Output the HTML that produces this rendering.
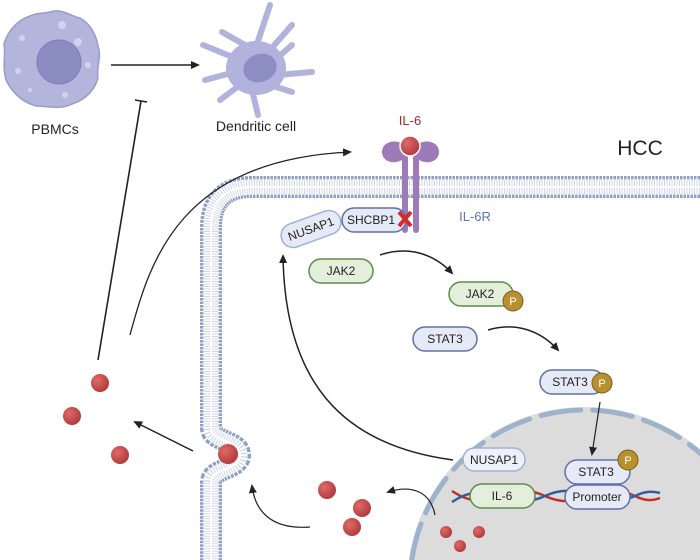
<!DOCTYPE html>
<html><head><meta charset="utf-8"><style>
html,body{margin:0;padding:0;background:#fff;width:700px;height:560px;overflow:hidden}
svg{display:block;overflow:hidden}
text{font-family:"Liberation Sans",sans-serif}
</style></head><body>
<svg width="700" height="560" viewBox="0 0 700 560" xmlns="http://www.w3.org/2000/svg">
<defs>
<marker id="ah" markerWidth="10" markerHeight="10" refX="7" refY="4" orient="auto" markerUnits="userSpaceOnUse"><path d="M0,0 L9,4 L0,8 Z" fill="#222"/></marker>
<radialGradient id="rb" cx="0.35" cy="0.35" r="0.7"><stop offset="0" stop-color="#e06a6a"/><stop offset="1" stop-color="#b03a3a"/></radialGradient>
<clipPath id="cp"><rect x="0" y="0" width="700" height="560"/></clipPath>
<path id="mp" d="M700,187 H252 Q211,187 211,228 V428 C211,442 240,440 240,455 C240,470 211,468 211,482 V560"/>
</defs>
<g clip-path="url(#cp)">
<circle cx="585" cy="585" r="178" fill="#dcdcdc"/>
<circle cx="585" cy="585" r="175" fill="none" stroke="#9fb2cc" stroke-width="5" stroke-dasharray="40 12" stroke-linecap="round"/>
<g fill="none">
<use href="#mp" stroke="#8e9fc2" stroke-width="22" stroke-dasharray="2.5 1"/>
<use href="#mp" stroke="#fff" stroke-width="17"/>
<use href="#mp" stroke="#8e9fc2" stroke-width="19" stroke-dasharray="2.5 1" opacity="0.9"/>
<use href="#mp" stroke="#fff" stroke-width="15"/>
<use href="#mp" stroke="#cfd7e7" stroke-width="14" stroke-dasharray="1 1.5"/>
<use href="#mp" stroke="#fff" stroke-width="2"/>
</g>
</g>
<path d="M50,12 C62,8 70,16 80,18 C90,24 96,34 98,46 C102,58 96,66 98,78 C94,92 84,100 72,104 C60,110 48,106 36,106 C22,102 12,92 6,80 C2,66 6,56 4,44 C8,30 18,20 30,16 C38,12 44,14 50,12Z" fill="#b4b5dd" stroke="#9a9acb" stroke-width="1.5"/>
<circle cx="59" cy="62" r="22" fill="#8a8cc2" stroke="#7c7eb6"/>
<g fill="#d0d2ee"><circle cx="62" cy="25" r="4"/><circle cx="78" cy="42" r="4"/><circle cx="22" cy="38" r="3"/><circle cx="18" cy="71" r="3"/><circle cx="88" cy="65" r="3"/><circle cx="65" cy="95" r="3"/><circle cx="30" cy="90" r="2"/></g>
<text x="55" y="134" font-size="14" text-anchor="middle" fill="#222">PBMCs</text>
<line x1="111" y1="65" x2="198" y2="65" stroke="#222" stroke-width="1.6" marker-end="url(#ah)"/>
<g stroke="#b2b3dc" stroke-width="6" stroke-linecap="round" fill="none">
<path d="M255,50 L270,5"/><path d="M270,50 L292,25"/><path d="M275,60 L292,45"/><path d="M278,75 L312,72"/><path d="M270,85 L292,92"/><path d="M252,90 L258,115"/><path d="M240,85 L220,100"/><path d="M235,72 L205,80"/><path d="M235,58 L203,45"/><path d="M245,45 L222,32"/></g>
<ellipse cx="256" cy="68" rx="30" ry="27" fill="#b2b3dc"/>
<ellipse cx="260" cy="68" rx="17" ry="14" fill="#8b8dc3" transform="rotate(-20 260 68)"/>
<text x="256" y="131" font-size="14" text-anchor="middle" fill="#222">Dendritic cell</text>
<line x1="98" y1="360" x2="141" y2="101" stroke="#222" stroke-width="1.6"/>
<line x1="135" y1="100" x2="147" y2="102" stroke="#222" stroke-width="1.6"/>
<path d="M130,335 C150,260 180,160 350,152" fill="none" stroke="#222" stroke-width="1.3" marker-end="url(#ah)"/>
<rect x="402" y="155" width="6" height="78" rx="3" fill="#9e7ab8"/>
<rect x="413" y="155" width="6" height="78" rx="3" fill="#9e7ab8"/>
<path d="M405,145 C395,138 382,142 382,152 C382,162 395,166 405,158Z" fill="#9e7ab8"/>
<path d="M416,145 C426,138 439,142 439,152 C439,162 426,166 416,158Z" fill="#9e7ab8"/>
<circle cx="410" cy="146" r="10" fill="url(#rb)" stroke="#fff" stroke-width="1.5"/>
<text x="410" y="125" font-size="13" text-anchor="middle" fill="#a52a2a">IL-6</text>
<text x="640" y="155" font-size="21" text-anchor="middle" fill="#222">HCC</text>
<text x="475" y="221" font-size="13" text-anchor="middle" fill="#5a74b0">IL-6R</text>
<g font-size="12" text-anchor="middle" fill="#222">
<g transform="rotate(-20 311 229)"><rect x="280" y="217" width="62" height="24" rx="12" fill="#e6eaf6" stroke="#9fb0d8" stroke-width="1.5"/><text x="311" y="233">NUSAP1</text></g>
<rect x="342" y="208" width="64" height="24" rx="12" fill="#e6eaf6" stroke="#6070a8" stroke-width="1.5"/><text x="371" y="224">SHCBP1</text>
<path d="M399,212 L411,226 M411,212 L399,226" stroke="#d42a2a" stroke-width="4"/>
<rect x="309" y="259" width="64" height="24" rx="12" fill="#e3efdb" stroke="#5e8c4a" stroke-width="1.5"/><text x="341" y="275">JAK2</text>
<rect x="449" y="282" width="64" height="24" rx="12" fill="#e3efdb" stroke="#5e8c4a" stroke-width="1.5"/><text x="480" y="298">JAK2</text>
<rect x="413" y="327" width="64" height="24" rx="12" fill="#e6eaf6" stroke="#6070a8" stroke-width="1.5"/><text x="445" y="343">STAT3</text>
<rect x="540" y="370" width="64" height="24" rx="12" fill="#e6eaf6" stroke="#6070a8" stroke-width="1.5"/><text x="570" y="386">STAT3</text>
<rect x="463" y="448" width="62" height="23" rx="11.5" fill="#eef1fa" stroke="#9fb0d8" stroke-width="1.5"/><text x="494" y="464">NUSAP1</text>
</g>
<g fill="none" stroke-width="2.5">
<path d="M452,491 C470,503 485,503 500,496 C515,489 530,489 545,496 C560,503 575,503 590,496 C605,489 620,489 635,496 C645,501 652,501 660,498" stroke="#c0302a"/>
<path d="M452,502 C470,490 485,490 500,496 C515,503 530,503 545,496 C560,489 575,489 590,496 C605,503 620,503 635,496 C645,491 652,491 660,493" stroke="#2f5fa0"/>
</g>
<g font-size="12" text-anchor="middle" fill="#222">
<rect x="470" y="484" width="65" height="24" rx="12" fill="#e3efdb" stroke="#5e8c4a" stroke-width="1.5"/><text x="502" y="500">IL-6</text>
<rect x="565" y="460" width="65" height="24" rx="12" fill="#e6eaf6" stroke="#6070a8" stroke-width="1.5"/><text x="596" y="476">STAT3</text>
<rect x="565" y="485" width="65" height="24" rx="12" fill="#e6eaf6" stroke="#6070a8" stroke-width="1.5"/><text x="597" y="501">Promoter</text>
</g>
<g font-size="11" text-anchor="middle" fill="#fff">
<circle cx="513" cy="301" r="10" fill="#b8912e" stroke="#7a5e18"/><text x="513" y="305">P</text>
<circle cx="602" cy="383" r="10" fill="#b8912e" stroke="#7a5e18"/><text x="602" y="387">P</text>
<circle cx="628" cy="460" r="10" fill="#b8912e" stroke="#7a5e18"/><text x="628" y="464">P</text>
</g>
<g fill="none" stroke="#222" stroke-width="1.5">
<path d="M380,255 C410,245 435,255 452,273" marker-end="url(#ah)"/>
<path d="M488,330 C515,322 540,330 558,350" marker-end="url(#ah)"/>
<path d="M600,402 L592,454" stroke-width="1.2" marker-end="url(#ah)"/>
<path d="M453,460 C340,445 285,380 283,256" marker-end="url(#ah)"/>
<path d="M435,515 C430,490 410,485 388,492" stroke-width="1.2" marker-end="url(#ah)"/>
<path d="M310,527 C270,530 255,510 252,486" stroke-width="1.2" marker-end="url(#ah)"/>
<path d="M193,451 L135,422" marker-end="url(#ah)"/>
</g>
<g fill="url(#rb)">
<circle cx="100" cy="383" r="9"/><circle cx="72" cy="416" r="9"/><circle cx="120" cy="455" r="9"/>
<circle cx="228" cy="454" r="10"/>
<circle cx="327" cy="490" r="9"/><circle cx="362" cy="508" r="9"/><circle cx="352" cy="527" r="9"/>
<circle cx="446" cy="532" r="6"/><circle cx="479" cy="532" r="6"/><circle cx="460" cy="546" r="6"/>
</g>
</svg>
</body></html>
